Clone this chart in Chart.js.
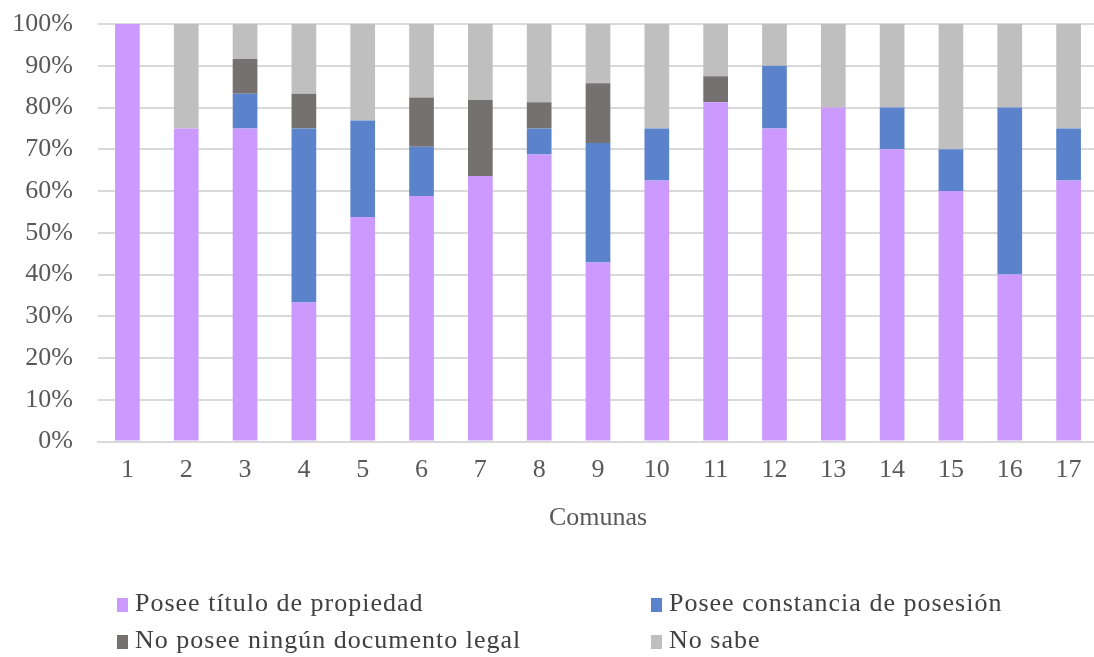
<!DOCTYPE html>
<html>
<head>
<meta charset="utf-8">
<script src="https://cdn.jsdelivr.net/npm/chart.js@4.4.1/dist/chart.umd.min.js"></script>
<style>
  html, body { margin: 0; padding: 0; background: #fff; overflow: hidden; }
  #wrap { position: relative; width: 1100px; height: 657px; }
  #grafico { position: absolute; left: 0; top: 0; }
  .leyenda { position: absolute; font-family: "Liberation Serif", "DejaVu Serif", serif; font-size: 26px; letter-spacing: 1px; color: #404040; white-space: nowrap; }
  .leyenda span.cuadro { display: inline-block; width: 11px; height: 14px; margin-right: 7px; vertical-align: -1px; }
</style>
</head>
<body>
<div id="wrap">
  <canvas id="grafico" width="1100" height="657"></canvas>
  <div id="leyenda"></div>
</div>
<script>
// datos (porcentaje por comuna)
const comunas = ['1','2','3','4','5','6','7','8','9','10','11','12','13','14','15','16','17'];
const tituloPropiedad = [100, 75, 75, 33.3, 53.8, 58.8, 63.6, 68.75, 42.9, 62.5, 81.25, 75, 80, 70, 60, 40, 62.5];
const constanciaPosesion = [0, 0, 8.3, 41.7, 23.1, 11.8, 0, 6.25, 28.6, 12.5, 0, 15, 0, 10, 10, 40, 12.5];
const sinDocumento = [0, 0, 8.3, 8.3, 0, 11.8, 18.2, 6.25, 14.3, 0, 6.25, 0, 0, 0, 0, 0, 0];
const noSabe = [0, 25, 8.4, 16.7, 23.1, 17.6, 18.2, 18.75, 14.2, 25, 12.5, 10, 20, 20, 30, 20, 25];
const ticksY = ['0%','10%','20%','30%','40%','50%','60%','70%','80%','90%','100%'];

const series = [
  { label: 'Posee título de propiedad', data: tituloPropiedad, color: '#cc99ff' },
  { label: 'Posee constancia de posesión', data: constanciaPosesion, color: '#5b83cc' },
  { label: 'No posee ningún documento legal', data: sinDocumento, color: '#767171' },
  { label: 'No sabe', data: noSabe, color: '#bfbfbf' }
];

const fuente = { family: '"Liberation Serif", "DejaVu Serif", serif', size: 26 };

const ctx = document.getElementById('grafico').getContext('2d');
const grafico = new Chart(ctx, {
  type: 'bar',
  data: {
    labels: comunas,
    datasets: series.map(s => ({
      label: s.label,
      data: s.data,
      backgroundColor: s.color,
      borderWidth: 0,
      categoryPercentage: 1,
      barPercentage: 0.42
    }))
  },
  options: {
    responsive: false,
    animation: false,
    layout: { padding: { top: 24, right: 2, bottom: 119, left: 0 } },
    plugins: {
      legend: { display: false },
      tooltip: { enabled: false }
    },
    scales: {
      x: {
        stacked: true,
        grid: { display: false, drawTicks: false },
        border: { display: true, color: '#d9d9d9', width: 2 },
        ticks: { color: '#595959', font: fuente, padding: 13 },
        title: { display: true, text: 'Comunas', color: '#595959', font: fuente, padding: { top: 4 } }
      },
      y: {
        stacked: true,
        min: 0,
        max: 100,
        afterFit: (scale) => { scale.width = 98; },
        grid: { color: '#d9d9d9', lineWidth: 2, drawTicks: true, tickLength: 25, tickColor: 'rgba(0,0,0,0)' },
        border: { display: false },
        ticks: {
          stepSize: 10,
          color: '#595959',
          font: fuente,
          padding: 0,
          callback: (v) => ticksY[Math.round(v / 10)]
        }
      }
    }
  }
});

// leyenda en dos columnas como en el original
const posiciones = [
  { left: 117, top: 588 }, { left: 651, top: 588 },
  { left: 117, top: 625 }, { left: 651, top: 625 }
];
const cont = document.getElementById('leyenda');
series.forEach((s, i) => {
  const d = document.createElement('div');
  d.className = 'leyenda';
  d.style.left = posiciones[i].left + 'px';
  d.style.top = posiciones[i].top + 'px';
  d.innerHTML = '<span class="cuadro" style="background:' + s.color + '"></span>' + s.label;
  cont.appendChild(d);
});
</script>
</body>
</html>
